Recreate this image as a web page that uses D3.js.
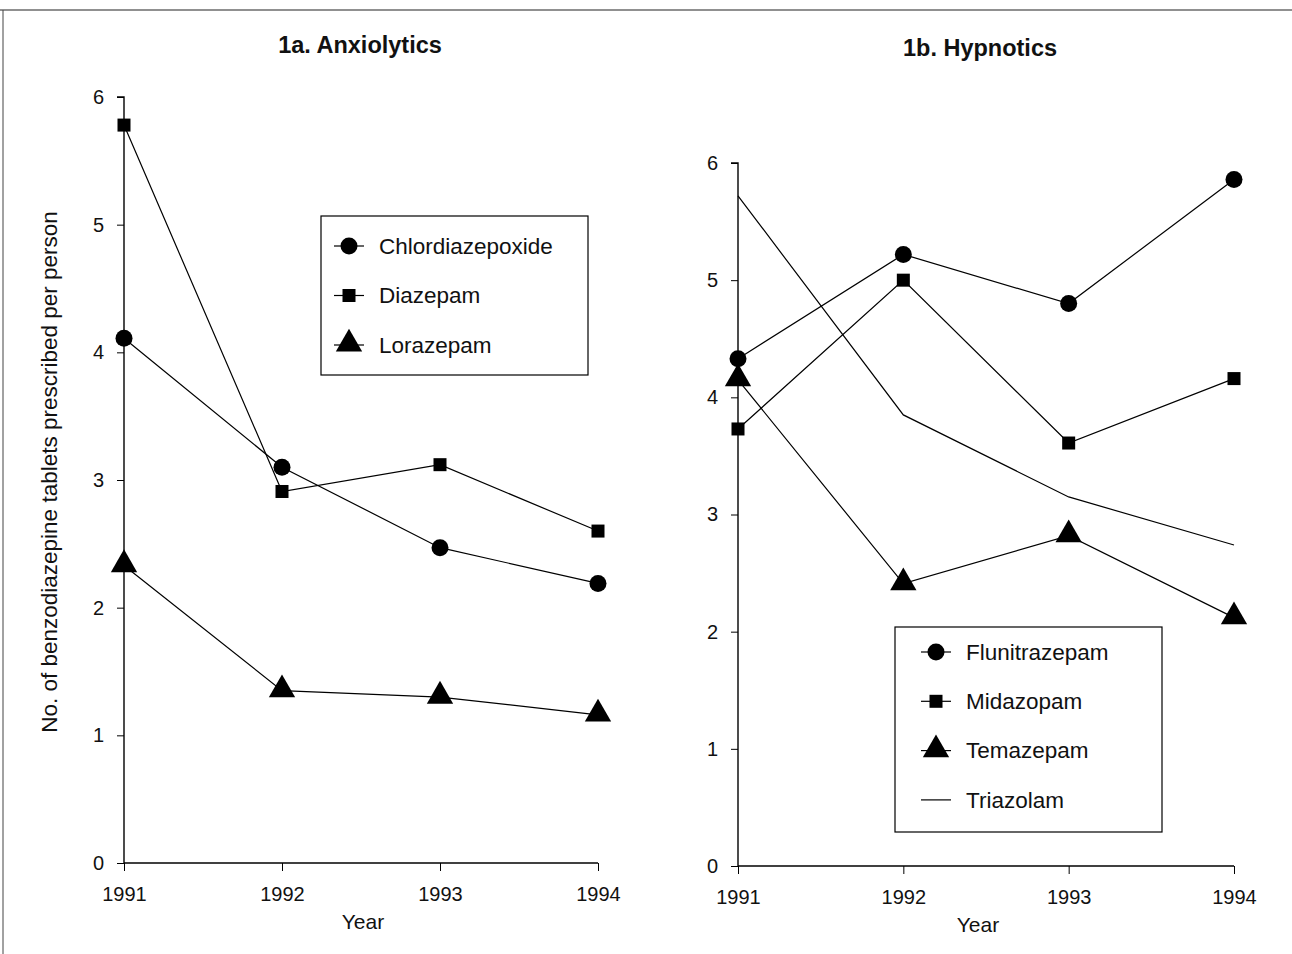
<!DOCTYPE html>
<html>
<head>
<meta charset="utf-8">
<script src="https://cdn.jsdelivr.net/npm/d3@7"></script>
<style>
  body { margin: 0; background: #fff; }
  svg { display: block; }
  text { font-family: "Liberation Sans", Arial, sans-serif; fill: #111; }
  .title { font-weight: bold; font-size: 23.5px; }
</style>
</head>
<body>
<div id="chart"></div>
<script>
// Chart data
const years = [1991, 1992, 1993, 1994];
const yTicks = [0, 1, 2, 3, 4, 5, 6];

const anxNames = ["Chlordiazepoxide", "Diazepam", "Lorazepam"];
const chlordiazepoxide = [4.11, 3.10, 2.47, 2.19];
const diazepam = [5.78, 2.91, 3.12, 2.60];
const lorazepam = [2.33, 1.35, 1.30, 1.16];

const hypNames = ["Flunitrazepam", "Midazopam", "Temazepam", "Triazolam"];
const flunitrazepam = [4.33, 5.22, 4.80, 5.86];
const midazopam = [3.73, 5.00, 3.61, 4.16];
const temazepam = [4.15, 2.41, 2.82, 2.12];
const triazolam = [5.72, 3.85, 3.15, 2.74];

const W = 1292, H = 954;
const svg = d3.select("#chart").append("svg").attr("width", W).attr("height", H);

// page frame (top and left edge of the scanned figure)
svg.append("line").attr("x1", 0).attr("x2", W).attr("y1", 10).attr("y2", 10).attr("stroke", "#222").attr("stroke-width", 1.2);
svg.append("line").attr("x1", 3).attr("x2", 3).attr("y1", 10).attr("y2", H).attr("stroke", "#444").attr("stroke-width", 1);

// marker drawing
function drawMarker(g, type, x, y) {
    if (type === "circle") {
        g.append("circle").attr("cx", x).attr("cy", y).attr("r", 8.5).attr("fill", "#000");
    } else if (type === "square") {
        g.append("rect").attr("x", x - 6.5).attr("y", y - 6.5).attr("width", 13).attr("height", 13).attr("fill", "#000");
    } else if (type === "triangle") {
        g.append("path").attr("d", d3.symbol().type(d3.symbolTriangle).size(300)()).attr("transform", `translate(${x},${y - 1})`).attr("fill", "#000");
    }
}

function drawPanel(opts) {
    const x = d3.scalePoint().domain(years).range([opts.x0, opts.x1]);
    const y = d3.scaleLinear().domain([0, 6]).range([opts.y0, opts.y1]);
    const g = svg.append("g");

    // y axis
    const yAxis = g.append("g").attr("transform", `translate(${opts.x0},0)`)
        .call(d3.axisLeft(y).tickValues(yTicks).tickSize(7).tickPadding(13).tickFormat(d3.format("d")));
    yAxis.select(".domain").attr("d", `M-7,${y(6)}H0V${y(0)}`).attr("stroke-width", 1.4);
    yAxis.selectAll("text").attr("font-size", 20).attr("font-family", "Liberation Sans, Arial, sans-serif");

    // x axis
    const xAxis = g.append("g").attr("transform", `translate(0,${opts.y0})`)
        .call(d3.axisBottom(x).tickSize(8).tickPadding(16));
    xAxis.select(".domain").attr("d", `M${opts.x0},0H${opts.x1}`).attr("stroke-width", 1.4);
    xAxis.selectAll("text").attr("font-size", 20).attr("font-family", "Liberation Sans, Arial, sans-serif");

    g.append("text").attr("x", (opts.x0 + opts.x1) / 2 + opts.yearDx).attr("y", opts.y0 + 66)
        .attr("text-anchor", "middle").attr("font-size", 21).text("Year");

    g.append("text").attr("class", "title").attr("x", opts.titleX).attr("y", opts.titleY)
        .attr("text-anchor", "middle").text(opts.title);

    const line = d3.line().x((d, i) => x(years[i])).y(d => y(d));
    opts.series.forEach(s => {
        g.append("path").datum(s.values).attr("d", line).attr("fill", "none")
            .attr("stroke", "#000").attr("stroke-width", 1.2);
        if (s.marker) s.values.forEach((v, i) => drawMarker(g, s.marker, x(years[i]), y(v)));
    });

    // legend
    const lg = g.append("g");
    lg.append("rect").attr("x", opts.legend.x).attr("y", opts.legend.y)
        .attr("width", opts.legend.w).attr("height", opts.legend.h)
        .attr("fill", "#fff").attr("stroke", "#000").attr("stroke-width", 1.2);
    opts.series.forEach((s, i) => {
        const cy = opts.legend.y + opts.legend.first + i * opts.legend.step;
        const mx = opts.legend.x + opts.legend.mx;
        lg.append("line").attr("x1", mx - 15).attr("x2", mx + 15).attr("y1", cy).attr("y2", cy)
            .attr("stroke", "#000").attr("stroke-width", 1.2);
        if (s.marker) drawMarker(lg, s.marker, mx, cy);
        lg.append("text").attr("x", mx + 30).attr("y", cy).attr("dy", "0.35em")
            .attr("font-size", 22.5).text(s.name);
    });
}

drawPanel({
    x0: 124, x1: 598, y0: 863, y1: 97,
    title: "1a. Anxiolytics", titleX: 360, titleY: 53, yearDx: 2,
    series: [
        { name: anxNames[0], values: chlordiazepoxide, marker: "circle" },
        { name: anxNames[1], values: diazepam, marker: "square" },
        { name: anxNames[2], values: lorazepam, marker: "triangle" }
    ],
    legend: { x: 321, y: 216, w: 267, h: 159, first: 30, step: 49.5, mx: 28 }
});

drawPanel({
    x0: 738, x1: 1234, y0: 866, y1: 163,
    title: "1b. Hypnotics", titleX: 980, titleY: 56, yearDx: -8,
    series: [
        { name: hypNames[0], values: flunitrazepam, marker: "circle" },
        { name: hypNames[1], values: midazopam, marker: "square" },
        { name: hypNames[2], values: temazepam, marker: "triangle" },
        { name: hypNames[3], values: triazolam, marker: null }
    ],
    legend: { x: 895, y: 627, w: 267, h: 205, first: 25, step: 49.3, mx: 41 }
});

// shared y label
svg.append("text").attr("transform", "translate(57,472) rotate(-90)")
    .attr("text-anchor", "middle").attr("font-size", 22.5)
    .text("No. of benzodiazepine tablets prescribed per person");
</script>
</body>
</html>
